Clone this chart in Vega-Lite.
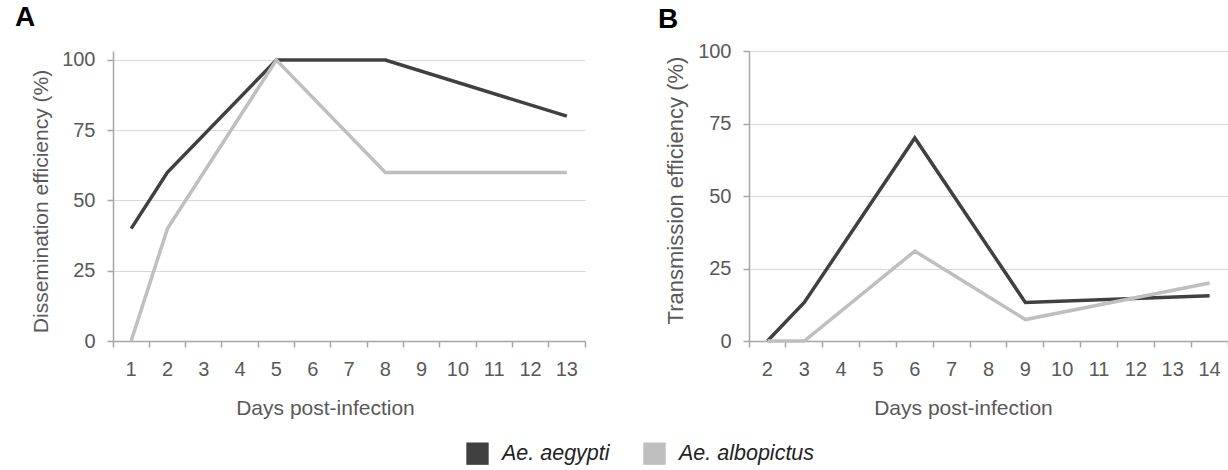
{
  "$schema": "https://vega.github.io/schema/vega-lite/v6.json",
  "padding": {"left": 15, "top": 3, "right": 0, "bottom": 0},
  "background": "white",
  "config": {
    "font": "Liberation Sans",
    "view": {"stroke": null},
    "axis": {
      "labelFont": "Liberation Sans",
      "labelFontSize": 20,
      "labelColor": "#595959",
      "titleFont": "Liberation Sans",
      "titleFontSize": 21,
      "titleFontWeight": "normal",
      "titleColor": "#595959",
      "domainColor": "#a6a6a6",
      "domainWidth": 1.5,
      "tickColor": "#a6a6a6",
      "tickWidth": 1.5,
      "tickSize": 6,
      "gridColor": "#d9d9d9",
      "gridWidth": 1.2
    },
    "title": {"fontSize": 28, "fontWeight": "bold", "color": "#000000", "anchor": "start", "frame": "group", "font": "Liberation Sans"},
    "concat": {"spacing": 72}
  },
  "datasets": {
    "a": [
      {"day": 1, "pct": 40, "species": "Ae. aegypti"},
      {"day": 2, "pct": 60, "species": "Ae. aegypti"},
      {"day": 5, "pct": 100, "species": "Ae. aegypti"},
      {"day": 8, "pct": 100, "species": "Ae. aegypti"},
      {"day": 13, "pct": 80, "species": "Ae. aegypti"},
      {"day": 1, "pct": 0, "species": "Ae. albopictus"},
      {"day": 2, "pct": 40, "species": "Ae. albopictus"},
      {"day": 5, "pct": 100, "species": "Ae. albopictus"},
      {"day": 8, "pct": 60, "species": "Ae. albopictus"},
      {"day": 13, "pct": 60, "species": "Ae. albopictus"}
    ],
    "b": [
      {"day": 2, "pct": 0, "species": "Ae. aegypti"},
      {"day": 3, "pct": 13.3, "species": "Ae. aegypti"},
      {"day": 6, "pct": 70, "species": "Ae. aegypti"},
      {"day": 9, "pct": 13.3, "species": "Ae. aegypti"},
      {"day": 14, "pct": 15.6, "species": "Ae. aegypti"},
      {"day": 2, "pct": 0, "species": "Ae. albopictus"},
      {"day": 3, "pct": 0, "species": "Ae. albopictus"},
      {"day": 6, "pct": 31, "species": "Ae. albopictus"},
      {"day": 9, "pct": 7.4, "species": "Ae. albopictus"},
      {"day": 14, "pct": 20, "species": "Ae. albopictus"}
    ]
  },
  "resolve": {"scale": {"color": "shared"}},
  "hconcat": [
    {
      "title": {"text": "A", "dx": -98, "dy": -14},
      "width": 472,
      "height": 290,
      "data": {"name": "a"},
      "mark": {"type": "line", "strokeWidth": 3.5},
      "encoding": {
        "x": {
          "field": "day", "type": "ordinal", "bandPosition": 0.5,
          "scale": {"type": "band", "domain": [1,2,3,4,5,6,7,8,9,10,11,12,13], "paddingInner": 0, "paddingOuter": 0},
          "axis": {"title": "Days post-infection", "labelAngle": 0, "bandPosition": 1, "tickExtra": true, "labelPadding": 12, "titlePadding": 18, "titleX": 212}
        },
        "y": {
          "field": "pct", "type": "quantitative",
          "scale": {"domain": [0, 103.2], "nice": false},
          "axis": {"title": "Dissemination efficiency (%)", "values": [0, 25, 50, 75, 100], "grid": true, "labelPadding": 12, "titlePadding": 10, "titleY": 150}
        },
        "color": {
          "field": "species", "type": "nominal",
          "scale": {"domain": ["Ae. aegypti", "Ae. albopictus"], "range": ["#404040", "#bfbfbf"]},
          "legend": {
            "title": null, "orient": "none", "direction": "horizontal",
            "legendX": 353, "legendY": 391, "padding": 0,
            "symbolType": "square", "symbolSize": 500, "symbolStrokeWidth": 0,
            "labelFontSize": 21.5, "labelFontStyle": "italic", "labelColor": "#222222", "labelFont": "Liberation Sans",
            "labelOffset": 13, "columnPadding": 33,
            "encode": {"symbols": {"update": {"fill": {"scale": "color", "field": "value"}, "strokeWidth": {"value": 0}}}}
          }
        }
      }
    },
    {
      "title": {"text": "B", "dx": -91, "dy": -3},
      "width": 479,
      "height": 290,
      "data": {"name": "b"},
      "mark": {"type": "line", "strokeWidth": 3.5},
      "encoding": {
        "x": {
          "field": "day", "type": "ordinal", "bandPosition": 0.5,
          "scale": {"type": "band", "domain": [2,3,4,5,6,7,8,9,10,11,12,13,14], "paddingInner": 0, "paddingOuter": 0},
          "axis": {"title": "Days post-infection", "labelAngle": 0, "bandPosition": 1, "tickExtra": true, "labelPadding": 12, "titlePadding": 18, "titleX": 214}
        },
        "y": {
          "field": "pct", "type": "quantitative",
          "scale": {"domain": [0, 100], "nice": false},
          "axis": {"title": "Transmission efficiency (%)", "titleFontSize": 22, "values": [0, 25, 50, 75, 100], "grid": true, "labelPadding": 12, "titlePadding": 10, "titleY": 139}
        },
        "color": {"field": "species", "type": "nominal"}
      }
    }
  ]
}
